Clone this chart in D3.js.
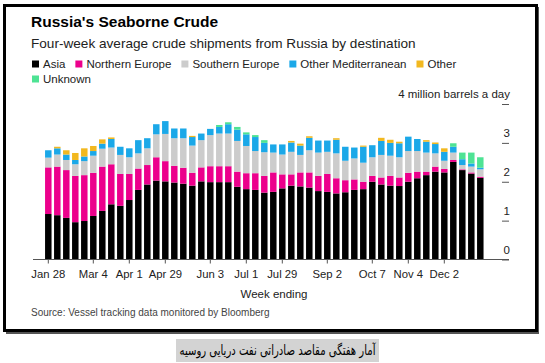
<!DOCTYPE html>
<html>
<head>
<meta charset="utf-8">
<script src="https://cdn.jsdelivr.net/npm/d3@7"></script>
<style>
  body { margin: 0; background: #fff; }
  svg text { font-family: "Liberation Sans", Arial, sans-serif; }
</style>
</head>
<body>
<div id="myChart"></div>
<script>
// week ending dates (categories)
var weeks = ["Jan 28", "Feb 4", "Feb 11", "Feb 18", "Feb 25", "Mar 4", "Mar 11", "Mar 18", "Mar 25",
  "Apr 1", "Apr 8", "Apr 15", "Apr 22", "Apr 29", "May 6", "May 13", "May 20", "May 27",
  "Jun 3", "Jun 10", "Jun 17", "Jun 24", "Jul 1", "Jul 8", "Jul 15", "Jul 22", "Jul 29",
  "Aug 5", "Aug 12", "Aug 19", "Aug 26", "Sep 2", "Sep 9", "Sep 16", "Sep 23", "Sep 30",
  "Oct 7", "Oct 14", "Oct 21", "Oct 28", "Nov 4", "Nov 11", "Nov 18", "Nov 25",
  "Dec 2", "Dec 9", "Dec 16", "Dec 23", "Dec 30"];

var tickLabels = ["Jan 28", "Mar 4", "Apr 1", "Apr 29", "Jun 3", "Jul 1", "Jul 29", "Sep 2", "Oct 7", "Nov 4", "Dec 2"];
var yTicks = [0, 1, 2, 3, 4];

// million barrels a day, per destination
var asia = [1.17, 1.14, 1.07, 0.96, 0.99, 1.12, 1.25, 1.42, 1.38, 1.53, 1.79, 1.93, 2.03, 2.01, 1.98, 1.95, 1.90,
  2.01, 1.99, 1.99, 1.99, 1.87, 1.81, 1.79, 1.72, 1.74, 1.83, 1.90, 1.88, 1.85, 1.76, 1.74, 1.70, 1.73,
  1.79, 1.81, 2.00, 1.93, 1.90, 1.89, 2.00, 2.09, 2.17, 2.26, 2.24, 2.51, 2.30, 2.21, 2.10];
var northernEurope = [1.20, 1.25, 1.23, 1.19, 1.18, 1.11, 1.14, 1.03, 0.82, 0.67, 0.55, 0.50, 0.60, 0.52, 0.43, 0.41, 0.33,
  0.36, 0.41, 0.41, 0.41, 0.39, 0.41, 0.43, 0.43, 0.50, 0.36, 0.29, 0.36, 0.39, 0.39, 0.46, 0.39, 0.31,
  0.27, 0.19, 0.15, 0.18, 0.25, 0.22, 0.23, 0.17, 0.09, 0.13, 0.09, 0.05, 0.02, 0.03, 0.03];
var southernEurope = [0.25, 0.31, 0.26, 0.30, 0.36, 0.44, 0.46, 0.43, 0.49, 0.43, 0.39, 0.43, 0.59, 0.70, 0.71, 0.76, 0.70,
  0.70, 0.80, 0.84, 0.84, 0.79, 0.70, 0.57, 0.61, 0.51, 0.51, 0.58, 0.45, 0.57, 0.60, 0.57, 0.64, 0.50,
  0.54, 0.49, 0.48, 0.58, 0.52, 0.52, 0.56, 0.53, 0.49, 0.34, 0.21, 0.19, 0.11, 0.15, 0.19];
var otherMed = [0.19, 0.16, 0.14, 0.11, 0.12, 0.12, 0.13, 0.22, 0.21, 0.23, 0.34, 0.26, 0.26, 0.33, 0.25, 0.25, 0.22,
  0.17, 0.16, 0.17, 0.24, 0.29, 0.30, 0.36, 0.24, 0.21, 0.26, 0.24, 0.24, 0.32, 0.31, 0.29, 0.35, 0.36,
  0.28, 0.41, 0.31, 0.36, 0.33, 0.36, 0.37, 0.31, 0.28, 0.24, 0.23, 0.15, 0.15, 0.08, 0.04];
var other = [0, 0.04, 0.11, 0.18, 0.21, 0.13, 0.11, 0.04, 0, 0, 0, 0, 0, 0, 0, 0, 0.03,
  0, 0, 0, 0, 0, 0, 0, 0, 0, 0, 0.04, 0.05, 0.04, 0, 0, 0.04, 0,
  0, 0.03, 0, 0.08, 0.08, 0.04, 0, 0, 0.04, 0.04, 0.09, 0, 0, 0, 0];
var unknown = [0, 0, 0, 0, 0, 0, 0, 0, 0, 0, 0, 0, 0, 0, 0, 0, 0,
  0, 0, 0.05, 0.05, 0.07, 0.05, 0.05, 0.07, 0, 0, 0, 0, 0, 0, 0, 0, 0,
  0, 0, 0, 0, 0, 0, 0, 0, 0, 0, 0, 0.09, 0.17, 0.28, 0.27];

var keys = ["Asia", "Northern Europe", "Southern Europe", "Other Mediterranean", "Other", "Unknown"];
var colors = ["#000000", "#ec008c", "#cccccc", "#1ba8e8", "#f2b81f", "#4ee394"];

// build table for d3.stack
var table = weeks.map(function(w, i) {
  return {
    week: w,
    "Asia": asia[i],
    "Northern Europe": northernEurope[i],
    "Southern Europe": southernEurope[i],
    "Other Mediterranean": otherMed[i],
    "Other": other[i],
    "Unknown": unknown[i]
  };
});

var width = 545, height = 363;

var svg = d3.select("#myChart")
  .append("svg")
  .attr("width", width)
  .attr("height", height);

// frame with a small shadow
svg.append("rect")
  .attr("x", 6).attr("y", 7)
  .attr("width", 533).attr("height", 327)
  .style("fill", "#555");
svg.append("rect")
  .attr("x", 4.5).attr("y", 5.5)
  .attr("width", 532).attr("height", 325)
  .style("fill", "#fff")
  .style("stroke", "#000")
  .style("stroke-width", 3);

// titles
svg.append("text")
  .attr("x", 31).attr("y", 27)
  .style("font-size", "15.5px")
  .style("font-weight", "bold")
  .style("fill", "#000")
  .text("Russia's Seaborne Crude");

svg.append("text")
  .attr("x", 31).attr("y", 48)
  .style("font-size", "13.6px")
  .style("fill", "#222")
  .text("Four-week average crude shipments from Russia by destination");

// legend, wraps to a second row
var legend = svg.append("g");
var lx = 32, ly = 64, maxX = 470;
keys.forEach(function(k, i) {
  var item = legend.append("g");
  item.append("rect")
    .attr("width", 7).attr("height", 7)
    .attr("y", -3.5)
    .style("fill", colors[i]);
  var t = item.append("text")
    .attr("x", 11)
    .attr("dy", "0.35em")
    .style("font-size", "11.5px")
    .style("fill", "#222")
    .text(k);
  var w = 11 + t.node().getComputedTextLength();
  if (lx + w > maxX) { lx = 32; ly += 15; }
  item.attr("transform", "translate(" + lx + "," + ly + ")");
  lx += w + 10;
});

// scales
var x = d3.scaleBand()
  .domain(weeks)
  .range([43.8, 484.8])
  .paddingInner(0.28)
  .paddingOuter(0.14);

var y = d3.scaleLinear()
  .domain([0, 4])
  .range([259.5, 104]);

var series = d3.stack().keys(keys)(table);

svg.append("g")
  .selectAll("g")
  .data(series)
  .enter()
  .append("g")
  .style("fill", function(d, i) { return colors[i]; })
  .selectAll("rect")
  .data(function(d) { return d; })
  .enter()
  .append("rect")
  .attr("x", function(d) { return x(d.data.week); })
  .attr("y", function(d) { return y(d[1]); })
  .attr("width", x.bandwidth())
  .attr("height", function(d) { return y(d[0]) - y(d[1]); });

// baseline
svg.append("line")
  .attr("x1", 33).attr("x2", 509)
  .attr("y1", y(0)).attr("y2", y(0))
  .style("stroke", "#555")
  .style("stroke-width", 1);

// x axis
var xAxis = svg.append("g")
  .attr("transform", "translate(0," + y(0) + ")")
  .call(d3.axisBottom(x).tickValues(tickLabels).tickSize(4).tickPadding(6));
xAxis.select(".domain").remove();
xAxis.selectAll("line").style("stroke", "#555");
xAxis.selectAll("text")
  .style("font-size", "11.3px")
  .style("fill", "#222")
  .style("font-family", "Liberation Sans, Arial, sans-serif");

svg.append("text")
  .attr("x", 274).attr("y", 298)
  .attr("text-anchor", "middle")
  .style("font-size", "11.5px")
  .style("fill", "#222")
  .text("Week ending");

// y axis on the right, labels sit above the tick dashes
var yAxis = svg.append("g")
  .attr("transform", "translate(502,0)")
  .call(d3.axisRight(y).tickValues(yTicks).tickSize(7)
    .tickFormat(function(d) { return d == 4 ? "4 million barrels a day" : d; }));
yAxis.select(".domain").remove();
yAxis.selectAll("line").style("stroke", "#555");
yAxis.selectAll("text")
  .attr("x", 8)
  .attr("dy", "-0.55em")
  .attr("text-anchor", "end")
  .style("font-size", "11.5px")
  .style("fill", "#222")
  .style("font-family", "Liberation Sans, Arial, sans-serif");

// source
svg.append("text")
  .attr("x", 31).attr("y", 316)
  .style("font-size", "10px")
  .style("fill", "#444")
  .text("Source: Vessel tracking data monitored by Bloomberg");

// persian caption under the frame
var cap = svg.append("g");
cap.append("rect")
  .attr("x", 176).attr("y", 339)
  .attr("width", 203).attr("height", 23)
  .style("fill", "#d3d3d3");
cap.append("text")
  .attr("x", 277.5).attr("y", 355)
  .attr("text-anchor", "middle")
  .attr("direction", "rtl")
  .attr("textLength", 196)
  .attr("lengthAdjust", "spacingAndGlyphs")
  .style("font-family", "DejaVu Sans, sans-serif")
  .style("font-size", "14px")
  .style("fill", "#000")
  .text("آمار هفتگی مقاصد صادراتی نفت دریایی روسیه");
</script>
</body>
</html>
